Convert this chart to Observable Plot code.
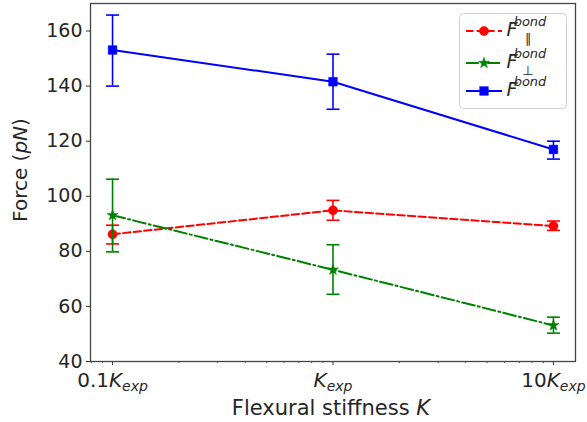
<!DOCTYPE html>
<html><head><meta charset="utf-8">
<script src="https://cdn.jsdelivr.net/npm/d3@7"></script>
<script src="https://cdn.jsdelivr.net/npm/@observablehq/plot@0.6"></script>
<style>body{margin:0;background:#fff;} svg{font-family:"DejaVu Sans";}</style>
</head><body><div id="chart"></div>
<script>
const stiffness = [0.1, 1, 10];
const tickLabels = ["0.1", "", "10"];
const yTicks = [40, 60, 80, 100, 120, 140, 160];
const minorTicks = [0.08, 0.09, 0.2, 0.3, 0.4, 0.5, 0.6, 0.7, 0.8, 0.9, 2, 3, 4, 5, 6, 7, 8, 9];

const fPar = [86.2, 94.9, 89.2];
const fParLo = [82.7, 91.3, 87.6];
const fParHi = [89.5, 98.5, 91.0];

const fPerp = [93.1, 73.3, 53.1];
const fPerpLo = [79.8, 64.4, 50.3];
const fPerpHi = [106.2, 82.4, 56.1];

const fBond = [153.1, 141.6, 117.0];
const fBondLo = [140.0, 131.6, 113.5];
const fBondHi = [165.8, 151.6, 120.0];

const seriesColors = ["#ff0000", "#008000", "#0000ff"];
const seriesDash = ["7.4,3.2", "12.8,3.2,2,3.2", null];
const seriesSymbols = ["circle", "star", "square"];
const seriesR = [4.6, 3.5, 4.9];

const allSeries = [
  {v: fPar, lo: fParLo, hi: fParHi},
  {v: fPerp, lo: fPerpLo, hi: fPerpHi},
  {v: fBond, lo: fBondLo, hi: fBondHi}
].map((s, k) => stiffness.map((x, i) => ({x, y: s.v[i], lo: s.lo[i], hi: s.hi[i], k})));

const cap = {draw(ctx, size) { const w = Math.sqrt(size / Math.PI); ctx.moveTo(-w, 0); ctx.lineTo(w, 0); }};

const marks = [];
allSeries.forEach((data, k) => {
  const c = seriesColors[k];
  marks.push(Plot.line(data, {x: "x", y: "y", stroke: c, strokeWidth: 2, strokeDasharray: seriesDash[k]}));
  marks.push(Plot.ruleX(data, {x: "x", y1: "lo", y2: "hi", stroke: c, strokeWidth: 1.6}));
  marks.push(Plot.dot(data, {x: "x", y: "lo", symbol: cap, r: 6.5, stroke: c, strokeWidth: 1.6, fill: "none"}));
  marks.push(Plot.dot(data, {x: "x", y: "hi", symbol: cap, r: 6.5, stroke: c, strokeWidth: 1.6, fill: "none"}));
  marks.push(Plot.dot(data, {x: "x", y: "y", symbol: seriesSymbols[k], r: seriesR[k], fill: c, stroke: c, strokeWidth: 0.5}));
});

const plot = Plot.plot({
  width: 587, height: 422,
  marginLeft: 90, marginRight: 12, marginTop: 3, marginBottom: 61,
  style: {fontFamily: "DejaVu Sans", fontSize: "19px", color: "#262626", background: "#fff"},
  x: {type: "log", domain: [Math.pow(10, -1.1), Math.pow(10, 1.1)]},
  y: {domain: [40, 170]},
  marks: [
    Plot.axisX(minorTicks, {tickSize: 2.2, tickFormat: () => "", stroke: "#333", strokeWidth: 0.8, label: null}),
    Plot.axisX(stiffness, {tickSize: 4, tickPadding: 7, tickFormat: (d) => "@" + d, stroke: "#333", strokeWidth: 1, label: null, fontSize: 20}),
    Plot.axisY(yTicks, {tickSize: 4, tickPadding: 4, stroke: "#333", strokeWidth: 1, label: null, fontSize: 19}),
    ...marks,
    Plot.frame({stroke: "#444", strokeWidth: 1.3})
  ]
});
document.getElementById("chart").appendChild(plot);

const svg = d3.select(plot);
// rich tick labels: nK_exp
svg.selectAll('g[aria-label="x-axis tick label"] text').each(function() {
  const t = d3.select(this);
  const s = t.text();
  if (!s.startsWith("@")) return;
  const pre = tickLabels[stiffness.indexOf(+s.slice(1))] ?? "";
  t.text(null);
  if (pre) t.append("tspan").text(pre);
  t.append("tspan").attr("font-style", "italic").text("K");
  t.append("tspan").attr("font-style", "italic").attr("font-size", 14).attr("dy", "4").text("exp");
});

// axis labels
const yl = svg.append("text").attr("transform", "translate(27,170) rotate(-90)").attr("text-anchor", "middle")
  .attr("font-size", 20).attr("fill", "#262626");
yl.append("tspan").text("Force (");
yl.append("tspan").attr("font-style", "italic").text("pN");
yl.append("tspan").text(")");
const xl = svg.append("text").attr("x", 331).attr("y", 415).attr("text-anchor", "middle")
  .attr("font-size", 21).attr("fill", "#262626");
xl.append("tspan").text("Flexural stiffness ");
xl.append("tspan").attr("font-style", "italic").text("K");

// legend
const lg = svg.append("g");
lg.append("rect").attr("x", 459.5).attr("y", 13.5).attr("width", 107).attr("height", 95).attr("rx", 4)
  .attr("fill", "#fff").attr("fill-opacity", 0.8).attr("stroke", "#d0d0d0");
const rowsY = [31, 63, 91];
const subs = ["\u2225", "\u22A5", ""];
const symbolPaths = {circle: d3.symbolCircle, star: d3.symbolStar, square: d3.symbolSquare};
rowsY.forEach((y, k) => {
  const c = seriesColors[k];
  const ln = lg.append("line").attr("x1", 466).attr("x2", 502).attr("y1", y).attr("y2", y)
    .attr("stroke", c).attr("stroke-width", 2);
  if (seriesDash[k]) ln.attr("stroke-dasharray", seriesDash[k]);
  lg.append("path").attr("transform", `translate(484,${y})`)
    .attr("d", d3.symbol(symbolPaths[seriesSymbols[k]], seriesR[k] * seriesR[k] * Math.PI)())
    .attr("fill", c).attr("stroke", c).attr("stroke-width", 0.5);
  lg.append("text").attr("x", 512).attr("y", y + 5).attr("font-size", 19).attr("font-style", "italic")
    .attr("fill", "#262626").text("F");
  lg.append("text").attr("x", 530).attr("y", y - 5).attr("font-size", 13).attr("font-style", "italic")
    .attr("fill", "#262626").text("bond");
  if (subs[k]) lg.append("text").attr("x", 528).attr("y", y + 12).attr("font-size", 13)
    .attr("fill", "#262626").text(subs[k]);
});
</script></body></html>
